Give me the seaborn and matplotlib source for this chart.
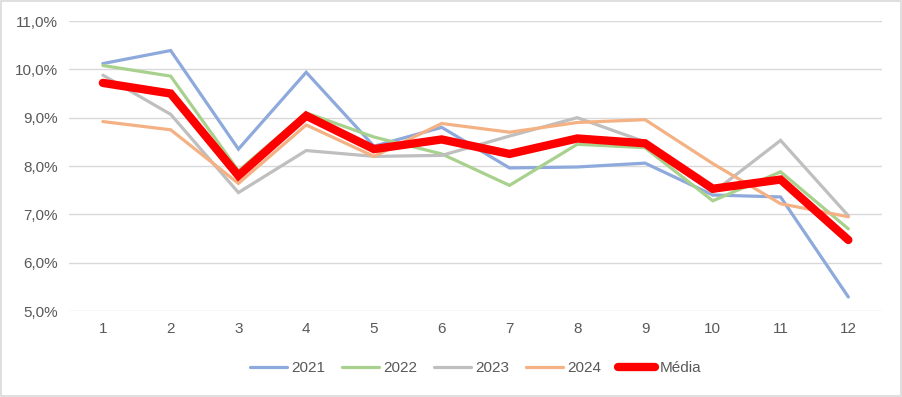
import numpy as np
import pandas as pd
import matplotlib
matplotlib.use("Agg")
import matplotlib.pyplot as plt
import seaborn as sns
from matplotlib.ticker import FuncFormatter
from matplotlib.patches import Rectangle

meses = list(range(1, 13))
v2021 = [10.12, 10.39, 8.35, 9.94, 8.41, 8.80, 7.96, 7.98, 8.06, 7.40, 7.36, 5.29]
v2022 = [10.08, 9.86, 7.90, 9.10, 8.60, 8.25, 7.60, 8.45, 8.38, 7.28, 7.88, 6.70]
v2023 = [9.88, 9.07, 7.45, 8.32, 8.20, 8.22, 8.62, 9.00, 8.50, 7.45, 8.53, 6.97]
v2024 = [8.92, 8.75, 7.64, 8.85, 8.20, 8.88, 8.70, 8.90, 8.96, 8.05, 7.22, 6.95]
media = [9.72, 9.50, 7.80, 9.04, 8.35, 8.55, 8.25, 8.57, 8.47, 7.53, 7.72, 6.47]

series = {"2021": v2021, "2022": v2022, "2023": v2023, "2024": v2024, "Média": media}
cores = {"2021": "#8EA9DB", "2022": "#A9D18E", "2023": "#BFBFBF", "2024": "#F4B183", "Média": "#FF0000"}
larguras = {"2021": 2.3, "2022": 2.3, "2023": 2.3, "2024": 2.3, "Média": 6.0}

sns.set_style("white")
plt.rcParams['font.family'] = ['Liberation Sans', 'DejaVu Sans']

fig = plt.figure(figsize=(9.03, 3.97), dpi=100)
ax = fig.add_axes([0.0764, 0.2166, 0.9006, 0.7304])

for nome, vals in series.items():
    df = pd.DataFrame({"mes": meses, "valor": vals})
    sns.lineplot(data=df, x="mes", y="valor", ax=ax, color=cores[nome],
                 linewidth=larguras[nome], label=nome, solid_capstyle="round",
                 solid_joinstyle="miter", zorder=3 if nome == "Média" else 2)

ax.set_xlim(0.5, 12.5)
ax.set_ylim(5, 11)
ax.set_xticks(meses)
ax.set_yticks(np.arange(5, 11.01, 1))
ax.yaxis.set_major_formatter(FuncFormatter(lambda v, p: f"{v:.1f}%".replace(".", ",")))
ax.grid(axis="y", color="#D9D9D9", linewidth=1)
ax.grid(axis="x", visible=False)
for s in ax.spines.values():
    s.set_visible(False)
ax.tick_params(axis="both", length=0, labelsize=11, colors="#595959", pad=8)
ax.set_xlabel("")
ax.set_ylabel("")

leg = ax.legend(loc="upper center", bbox_to_anchor=(0.5, -0.125), ncol=5, frameon=False,
                fontsize=11, handlelength=2.4, handletextpad=0.3, columnspacing=1.1)
for t in leg.get_texts():
    t.set_color("#595959")

fig.patches.append(Rectangle((0.001, 0.002), 0.997, 0.995, transform=fig.transFigure,
                             fill=False, edgecolor="#D9D9D9", linewidth=1.2))

fig.savefig("out.png", dpi=100)
